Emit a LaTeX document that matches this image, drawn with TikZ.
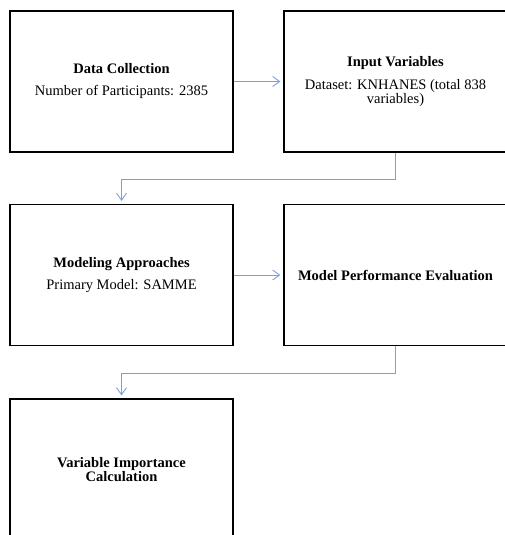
\documentclass[tikz,border=0pt]{standalone}
\usepackage{fontspec}
\setmainfont{Liberation Serif}
\usetikzlibrary{arrows.meta}
\definecolor{conncol}{RGB}{118,160,228}
\tikzset{
  stepbox/.style={draw=black, line width=1.2pt, rectangle, minimum width=223pt, minimum height=141pt, align=center, font=\fontsize{14.5pt}{14.5pt}\selectfont, inner sep=2pt},
  conn/.style={draw=conncol, line width=0.9pt, -{Straight Barb[length=7pt,width=10pt,line width=0.9pt]}, shorten >=3pt}
}
\begin{document}
\begin{tikzpicture}[x=1pt,y=-1pt]
\useasboundingbox (0,0) rectangle (504,535);
\node[stepbox] (b1) at (121.5,81.5) {\textbf{Data Collection}\\[7.5pt]Number of Participants: 2385};
\node[stepbox] (b2) at (395.5,81.5) {\textbf{Input Variables}\\[8.5pt]Dataset: KNHANES (total 838\\variables)};
\node[stepbox] (b3) at (121.5,275) {\textbf{Modeling Approaches}\\[8pt]Primary Model: SAMME};
\node[stepbox] (b4) at (395.5,275) {\textbf{Model Performance Evaluation}};
\node[stepbox] (b5) at (121.5,469.5) {\textbf{Variable Importance}\\\textbf{Calculation}};
\draw[conn] (b1.east) -- (b2.west);
\draw[conn] (b3.east) -- (b4.west);
\draw[conn] (b2.south) -- ++(0,27) -| (b3.north);
\draw[conn] (b4.south) -- ++(0,27) -| (b5.north);
\end{tikzpicture}
\end{document}
